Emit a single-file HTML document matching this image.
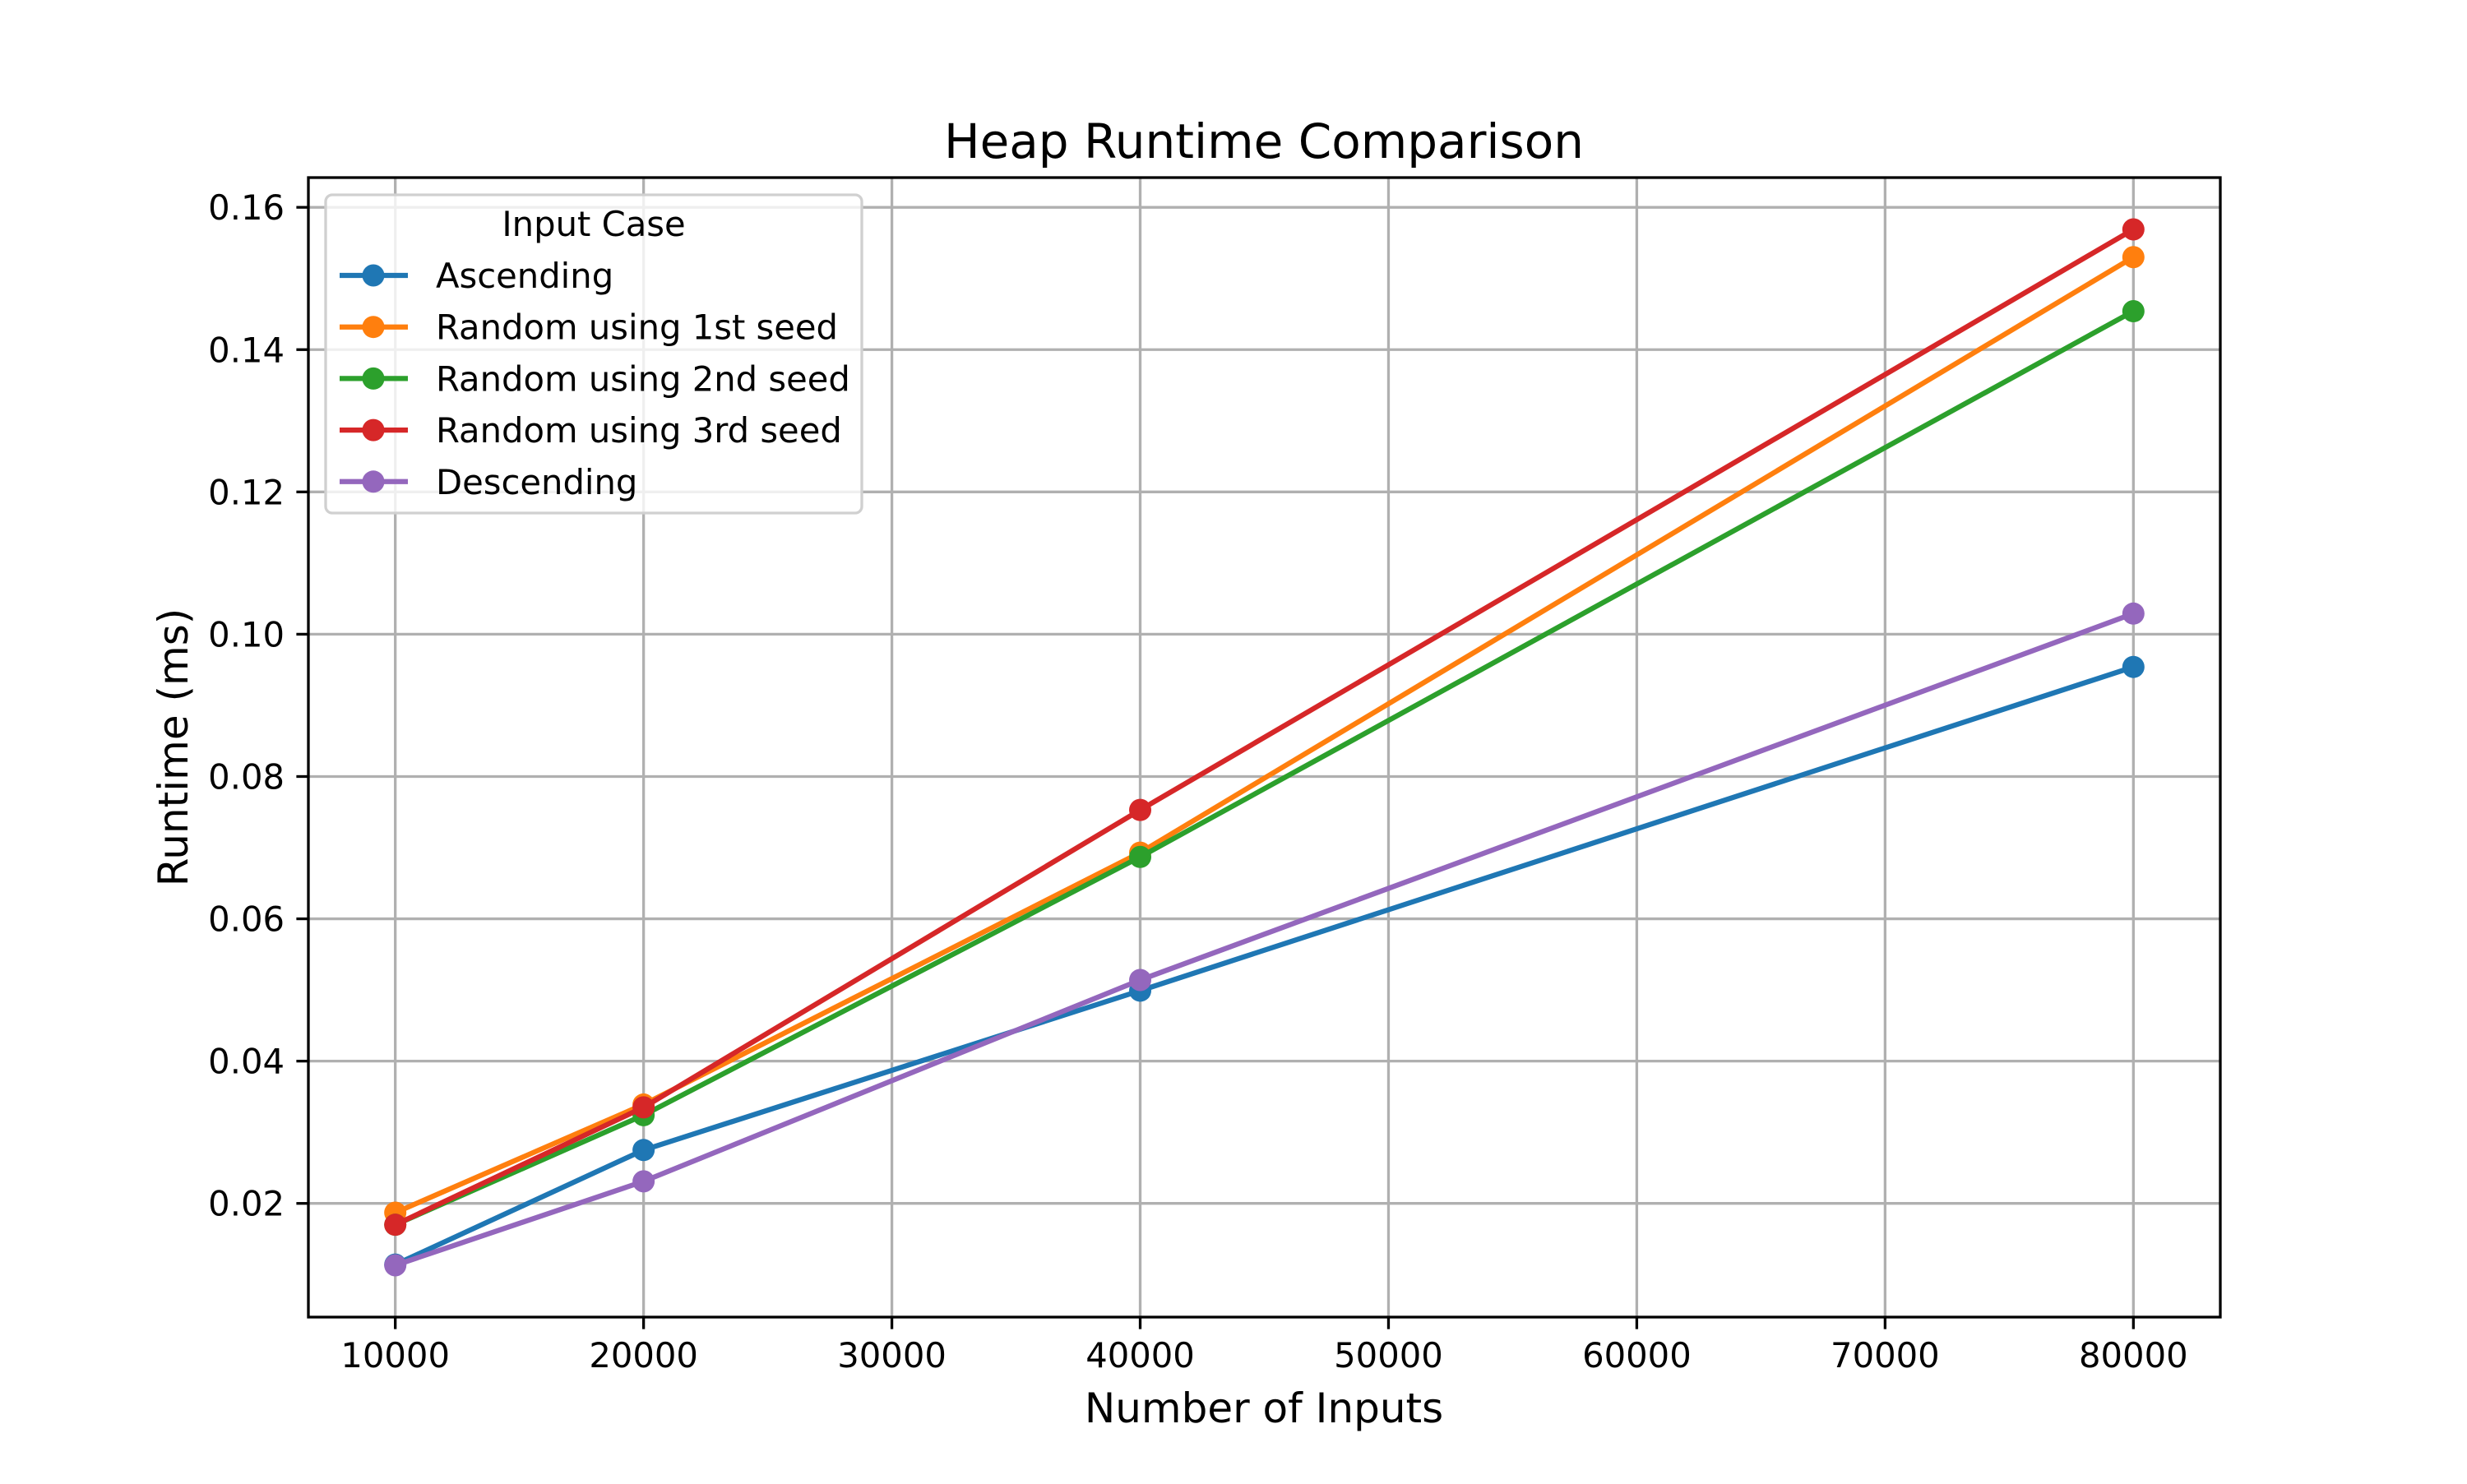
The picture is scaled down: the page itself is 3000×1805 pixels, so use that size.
<!DOCTYPE html>
<html><head><meta charset="utf-8"><style>
body{margin:0;background:#fff}
svg text{font-family:"DejaVu Sans","Liberation Sans",sans-serif;fill:#000}
</style></head><body>
<svg id="chart" width="3000" height="1800" viewBox="0 0 3000 1800" xmlns="http://www.w3.org/2000/svg">
<rect width="3000" height="1800" fill="#fff"/>
<g id="grid"></g>
<g id="series"></g>
<rect x="375" y="216" width="2325" height="1386" fill="none" stroke="#000" stroke-width="3.3"/>
<g id="ticks"></g>
<text x="1537" y="192" font-size="58" text-anchor="middle">Heap Runtime Comparison</text>
<text x="1537" y="1730" font-size="50" text-anchor="middle">Number of Inputs</text>
<text transform="translate(228,909) rotate(-90)" font-size="50" text-anchor="middle">Runtime (ms)</text>
<g id="legend"></g>
</svg>
<script>
const categories = [10000, 20000, 40000, 80000];
const seriesNames = ["Ascending", "Random using 1st seed", "Random using 2nd seed", "Random using 3rd seed", "Descending"];
const ascending = [0.0114, 0.0275, 0.0499, 0.0954];
const random1 = [0.0187, 0.0339, 0.0693, 0.1530];
const random2 = [0.0170, 0.0324, 0.0687, 0.1454];
const random3 = [0.0170, 0.0335, 0.0753, 0.1569];
const descending = [0.0113, 0.0231, 0.0514, 0.1029];
const xTicks = [10000, 20000, 30000, 40000, 50000, 60000, 70000, 80000];
const yTicks = [0.02, 0.04, 0.06, 0.08, 0.10, 0.12, 0.14, 0.16];

const colors = ["#1f77b4", "#ff7f0e", "#2ca02c", "#d62728", "#9467bd"];
const allSeries = [ascending, random1, random2, random3, descending];
const NS = "http://www.w3.org/2000/svg";
const L = 375, R = 2700, T = 216, B = 1602;
const allVals = allSeries.flat();
const dmin = Math.min(...allVals), dmax = Math.max(...allVals);
const ymin = dmin - 0.05 * (dmax - dmin), ymax = dmax + 0.05 * (dmax - dmin);
const cmin = Math.min(...categories), cmax = Math.max(...categories);
const xmin = cmin - 0.05 * (cmax - cmin), xmax = cmax + 0.05 * (cmax - cmin);
const sx = v => L + (v - xmin) / (xmax - xmin) * (R - L);
const sy = v => B - (v - ymin) / (ymax - ymin) * (B - T);
function mk(tag, attrs, parent) {
  const e = document.createElementNS(NS, tag);
  for (const k in attrs) e.setAttribute(k, attrs[k]);
  parent.appendChild(e);
  return e;
}
const grid = document.getElementById('grid'), ticks = document.getElementById('ticks');
xTicks.forEach(t => {
  const x = sx(t);
  const g = mk('line', {x1: x, x2: x, y1: T, y2: B, stroke: '#b0b0b0', 'stroke-width': 3.3}, grid);
  
  
  const tk = mk('line', {x1: x, x2: x, y1: B, y2: B + 14.6, stroke: '#000', 'stroke-width': 3.3}, ticks);
  
  
  const tx = mk('text', {x: x, y: B + 61, 'font-size': 41.7, 'text-anchor': 'middle'}, ticks);
  tx.textContent = t;
  
  
});
yTicks.forEach(t => {
  const y = sy(t);
  const g = mk('line', {x1: L, x2: R, y1: y, y2: y, stroke: '#b0b0b0', 'stroke-width': 3.3}, grid);
  
  
  const tk = mk('line', {x1: L - 14.6, x2: L, y1: y, y2: y, stroke: '#000', 'stroke-width': 3.3}, ticks);
  
  
  const tx = mk('text', {x: L - 29, y: y + 15, 'font-size': 41.7, 'text-anchor': 'end'}, ticks);
  tx.textContent = t.toFixed(2);
  
  
});
const sg = document.getElementById('series');
allSeries.forEach((vals, i) => {
  const pts = vals.map((v, j) => sx(categories[j]) + ',' + sy(v)).join(' ');
  const pl = mk('polyline', {points: pts, fill: 'none', stroke: colors[i], 'stroke-width': 6.25, 'stroke-linejoin': 'round', 'stroke-linecap': 'square'}, sg);
  
  
  vals.forEach((v, j) => {
    const c = mk('circle', {cx: sx(categories[j]), cy: sy(v), r: 13.5, fill: colors[i]}, sg);
    
    
  });
});
const lg = document.getElementById('legend');
const box = mk('rect', {x: 396, y: 237, width: 652, height: 387, rx: 8, fill: '#fff', 'fill-opacity': 0.8, stroke: '#d0d0d0', 'stroke-width': 3.3}, lg);


const lt = mk('text', {x: 722, y: 287, 'font-size': 41.7, 'text-anchor': 'middle'}, lg);
lt.textContent = 'Input Case';


seriesNames.forEach((n, i) => {
  const y = 335 + i * 62.7;
  const ln = mk('line', {x1: 413, x2: 496, y1: y, y2: y, stroke: colors[i], 'stroke-width': 6.25}, lg);
  
  
  const c = mk('circle', {cx: 454, cy: y, r: 13.5, fill: colors[i]}, lg);
  
  
  const t = mk('text', {x: 530, y: y + 15, 'font-size': 41.7}, lg);
  t.textContent = n;
  
  
});
</script>
</body></html>
